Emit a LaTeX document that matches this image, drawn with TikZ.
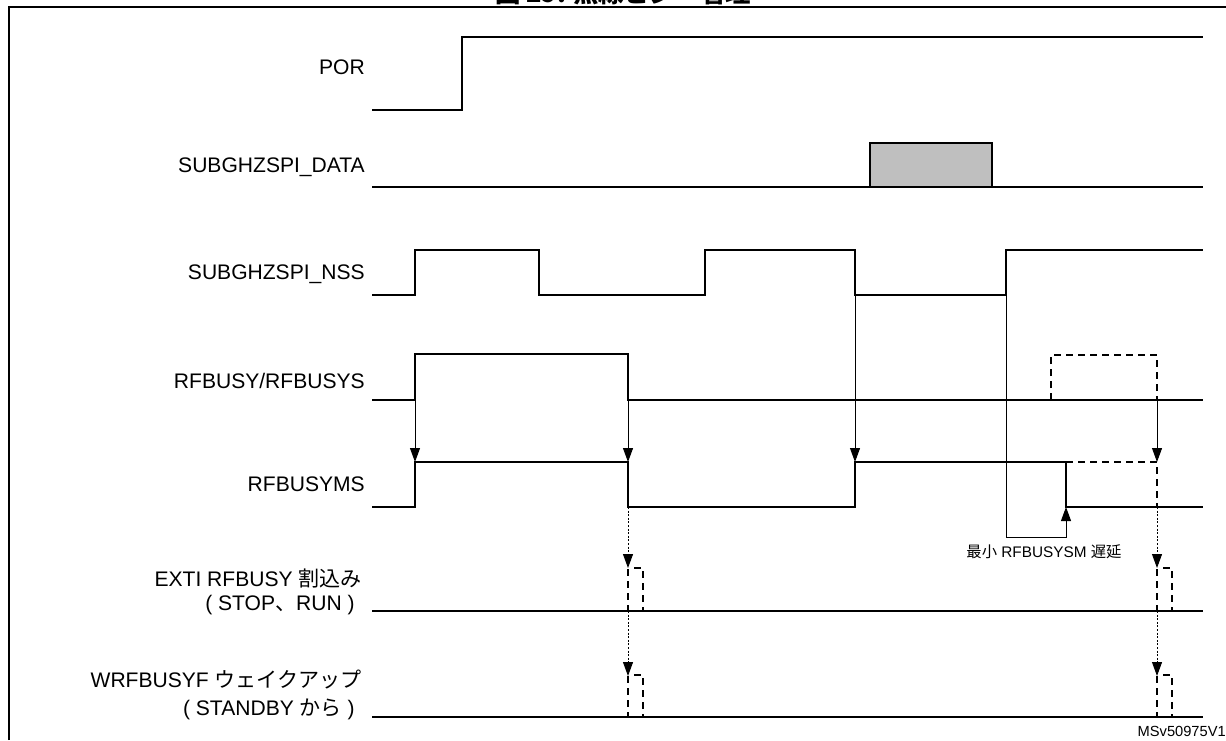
\documentclass[tikz,border=0pt]{standalone}
\usepackage{fontspec}
\setmainfont{Liberation Sans}
\newfontfamily\cjk{Noto Sans CJK JP}
\usetikzlibrary{arrows.meta}
\begin{document}
\begin{tikzpicture}[x=0.75pt,y=-0.75pt,
  sig/.style={line width=1.4pt, line join=miter},
  dsig/.style={line width=1.5pt, dash pattern=on 5.25pt off 3.75pt},
  arr/.style={line width=0.7pt, -{Triangle[length=10.5pt,width=7.5pt]}},
  darr/.style={line width=0.7pt, dash pattern=on 1.5pt off 1.2pt, -{Triangle[length=10.5pt,width=7.5pt]}},
  lbl/.style={anchor=east, inner sep=0pt, font=\fontsize{15.8}{17}\selectfont},
  frame/.style={line width=2.2pt}]
\useasboundingbox (0,0) rectangle (1226,740);
% title (cut off at top, as in the reference)
\node[anchor=base, inner sep=0pt, font=\cjk\bfseries\fontsize{19}{21}\selectfont] (title) at (623,2) {図 29. 無線ビジー管理};
\draw[frame] (9,740) -- (9,7) -- (1226,7);

% labels
\node[lbl] (lpor) at (365,67) {POR};
\node[lbl] (ldata) at (365,167) {SUBGHZSPI\_DATA};
\node[lbl] (lnss) at (365,274) {SUBGHZSPI\_NSS};
\node[lbl] (lbusy) at (365,381) {RFBUSY/RFBUSYS};
\node[lbl] (lms) at (365,484) {RFBUSYMS};
\node[lbl] (lexti1) at (362,578) {EXTI RFBUSY {\cjk 割込み}};
\node[lbl] (lexti2) at (355,605) {( STOP{\cjk 、}RUN )};
\node[lbl] (lwk1) at (362,680) {WRFBUSYF {\cjk ウェイクアップ}};
\node[lbl] (lwk2) at (355,709) {( STANDBY {\cjk から} )};

% POR
\draw[sig] (372,110) -- (462,110) -- (462,37) -- (1203,37);
% DATA
\draw[sig] (372,187) -- (1203,187);
\draw[sig, fill=gray!50] (870,187) rectangle (992,143);
% NSS
\draw[sig] (372,295) -- (415,295) -- (415,250) -- (539,250) -- (539,295) -- (705,295) -- (705,250)
  -- (855,250) -- (855,295) -- (1006,295) -- (1006,250) -- (1203,250);
% RFBUSY
\draw[sig] (372,400) -- (415,400) -- (415,354) -- (628,354) -- (628,400) -- (1203,400);
\draw[dsig] (1051,400) -- (1051,355) -- (1157,355) -- (1157,400);
% RFBUSYMS
\draw[sig] (372,507) -- (415,507) -- (415,462) -- (628,462) -- (628,507) -- (855,507) -- (855,462)
  -- (1066,462) -- (1066,507) -- (1203,507);
\draw[dsig] (1066,462) -- (1157,462) -- (1157,507);
% EXTI
\draw[sig] (372,611) -- (1203,611);
\draw[dsig] (634,568) -- (643,568) -- (643,611);
\draw[dsig] (628,569) -- (628,611);
\draw[dsig] (1163,568) -- (1172,568) -- (1172,611);
\draw[dsig] (1157,569) -- (1157,611);
% WRFBUSYF
\draw[sig] (372,717) -- (1203,717);
\draw[dsig] (634,675) -- (643,675) -- (643,717);
\draw[dsig] (628,676) -- (628,717);
\draw[dsig] (1163,675) -- (1172,675) -- (1172,717);
\draw[dsig] (1157,676) -- (1157,717);

% connector coordinates
\coordinate (b1) at (415,400); \coordinate (m1) at (415,462);
\coordinate (b2) at (628,400); \coordinate (m2) at (628,462);
\coordinate (n3) at (855,295); \coordinate (m3) at (855,462);
\coordinate (b4) at (1157,400); \coordinate (m4) at (1157,462);
\coordinate (ms2) at (628,507); \coordinate (e2) at (628,568);
\coordinate (ex2) at (628,611); \coordinate (w2) at (628,676);
\coordinate (ms4) at (1157,507); \coordinate (e4) at (1157,568);
\coordinate (ex4) at (1157,611); \coordinate (w4) at (1157,676);
\coordinate (nssr) at (1006,295); \coordinate (msf) at (1066,507);

\draw[arr] (b1) -- (m1);
\draw[arr] (b2) -- (m2);
\draw[arr] (n3) -- (m3);
\draw[arr] (b4) -- (m4);
\draw[darr] (ms2) -- (e2);
\draw[darr] (ex2) -- (w2);
\draw[darr] (ms4) -- (e4);
\draw[darr] (ex4) -- (w4);
\draw[arr] (nssr) -- ++(0,242) -| (msf);

\node[inner sep=0pt, font=\fontsize{11.5}{13}\selectfont] (delay) at (1044,552) {{\cjk 最小} RFBUSYSM {\cjk 遅延}};
\node[anchor=east, inner sep=0pt, font=\fontsize{11}{13}\selectfont] (id) at (1226,731) {MSv50975V1};
\end{tikzpicture}
\end{document}
